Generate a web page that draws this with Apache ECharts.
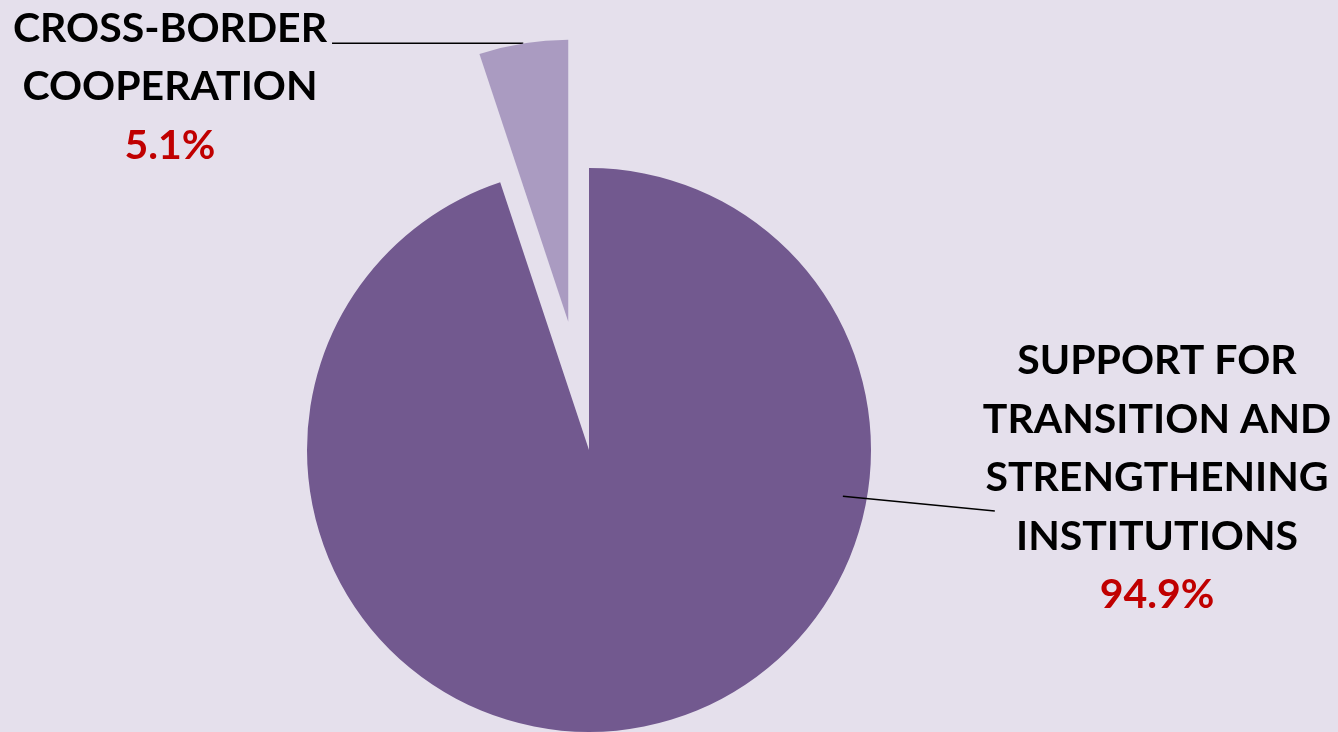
<!DOCTYPE html>
<html>
<head>
<meta charset="utf-8">
<title>Allocation by priority</title>
<script src="https://cdn.jsdelivr.net/npm/echarts@6/dist/echarts.min.js"></script>
<style>
  html, body { margin: 0; padding: 0; background: #e5e0ec; }
  #chart { width: 1338px; height: 732px; }
</style>
</head>
<body>
<div id="chart"></div>
<script>
// Slice names (line breaks are where the label wraps) and their shares in percent
const categories = [
  'SUPPORT FOR\nTRANSITION AND\nSTRENGTHENING\nINSTITUTIONS',
  'CROSS-BORDER\nCOOPERATION'
];
const shares = [94.9, 5.1];
const sliceColors = ['#72598f', '#aa9bc1'];
// which slice is pulled out of the pie
const EXPLODED_INDEX = 1;

// Pie geometry
const PIE_CENTER = [589, 450];
const PIE_RADIUS = 282;
const EXPLODE = 130;

// Label block anchors (centre of each text block)
const LABEL_ANCHORS = [
  { x: 1157, y: 478 },
  { x: 170, y: 87 }
];

const FONT = 'Lato, "Open Sans", sans-serif';
const FONT_SIZE = 41;
const LINE_H = 58.5;

const total = shares.reduce((a, b) => a + b, 0);

// clockwise angle (deg, from 12 o'clock) at the middle of slice i
function midAngle(i) {
  let start = 0;
  for (let k = 0; k < i; k++) start += shares[k] / total * 360;
  return start + shares[i] / total * 180;
}
function dirOf(deg) {
  const r = deg * Math.PI / 180;
  return [Math.sin(r), -Math.cos(r)];
}

const explodeDir = dirOf(midAngle(EXPLODED_INDEX));
const explodedCenter = [
  PIE_CENTER[0] + explodeDir[0] * EXPLODE,
  PIE_CENTER[1] + explodeDir[1] * EXPLODE
];

const HIDDEN = 'rgba(0,0,0,0)';

// Base pie: every slice except the exploded one
const baseData = categories.map((name, i) => ({
  name: name,
  value: shares[i],
  itemStyle: { color: i === EXPLODED_INDEX ? HIDDEN : sliceColors[i] }
}));

// Top layer: the exploded slice plus all labels and leader lines
const topData = categories.map((name, i) => ({
  name: name,
  value: shares[i],
  itemStyle: { color: i === EXPLODED_INDEX ? sliceColors[i] : HIDDEN }
}));

const labelOpt = {
  show: true,
  position: 'outside',
  overflow: 'none',
  formatter: function (p) {
    const lines = p.name.split('\n').map(s => '{n|' + s + '}');
    return lines.join('\n') + '\n{p|' + p.value.toFixed(1) + '%}';
  },
  rich: {
    n: { fontFamily: FONT, fontSize: FONT_SIZE, fontWeight: 'bold', color: '#000000', lineHeight: LINE_H, align: 'center' },
    p: { fontFamily: FONT, fontSize: FONT_SIZE, fontWeight: 'bold', color: '#c00000', lineHeight: LINE_H, align: 'center' }
  }
};

const chart = echarts.init(document.getElementById('chart'), null, { renderer: 'canvas' });

chart.setOption({
  backgroundColor: '#e5e0ec',
  animation: false,
  series: [{
    type: 'pie',
    z: 2,
    center: PIE_CENTER,
    radius: PIE_RADIUS,
    startAngle: 90,
    clockwise: true,
    silent: true,
    emphasis: { disabled: true },
    label: { show: false },
    labelLine: { show: false },
    data: baseData
  }, {
    type: 'pie',
    z: 3,
    center: explodedCenter,
    radius: PIE_RADIUS,
    startAngle: 90,
    clockwise: true,
    silent: true,
    avoidLabelOverlap: false,
    emphasis: { disabled: true },
    data: topData,
    label: labelOpt,
    labelLine: {
      show: true,
      length: 20,
      length2: 20,
      lineStyle: { color: '#000000', width: 1.5 }
    },
    labelLayout: function (params) {
      const i = params.dataIndex;
      const a = LABEL_ANCHORS[i];
      const w = params.labelRect.width;
      let pts;
      if (i === EXPLODED_INDEX) {
        // leader from the middle of the exploded slice's outer arc, running flat to the text
        const sx = explodedCenter[0] + explodeDir[0] * PIE_RADIUS;
        const sy = explodedCenter[1] + explodeDir[1] * PIE_RADIUS;
        pts = [[sx, sy], [a.x + w / 2 + 5, sy]];
      } else {
        const d = dirOf(100.3);
        const sx = PIE_CENTER[0] + d[0] * PIE_RADIUS * 0.915;
        const sy = PIE_CENTER[1] + d[1] * PIE_RADIUS * 0.915;
        pts = [[sx, sy], [a.x - w / 2 + 12, a.y + 33]];
      }
      return {
        x: a.x,
        y: a.y,
        align: 'center',
        verticalAlign: 'middle',
        labelLinePoints: pts
      };
    }
  }]
});
</script>
</body>
</html>
